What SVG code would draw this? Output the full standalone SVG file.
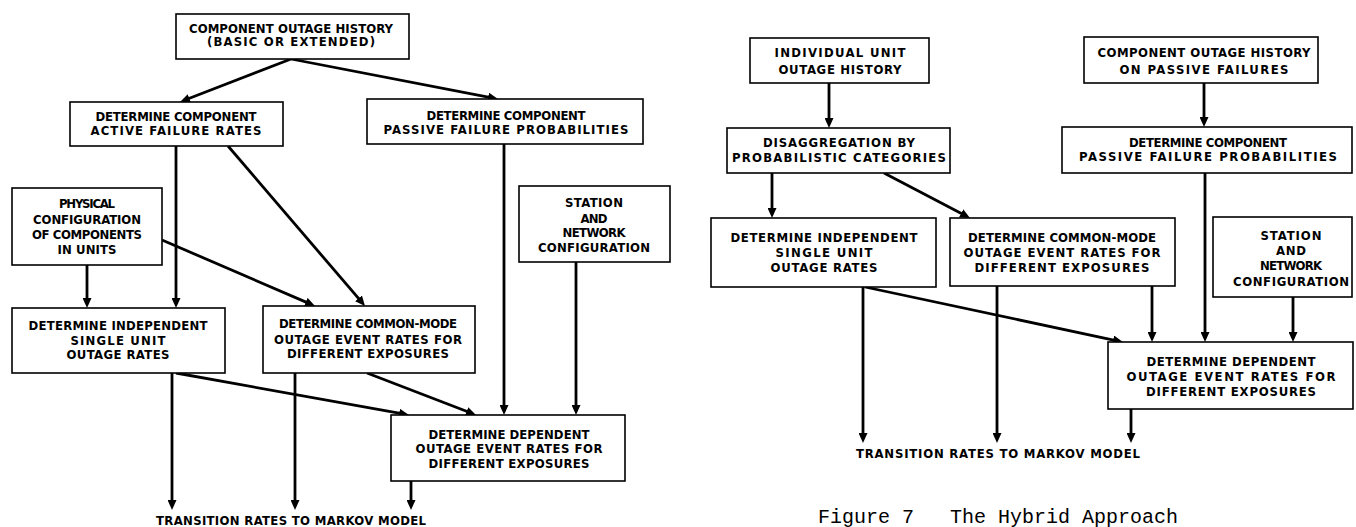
<svg xmlns="http://www.w3.org/2000/svg" width="1356" height="527" viewBox="0 0 1356 527">
<style>
.bg{fill:#fff}
.box{fill:#fff;stroke:#000;stroke-width:1.6}
.t{font-family:"DejaVu Sans Condensed","DejaVu Sans",sans-serif;font-size:13px;font-weight:bold;text-anchor:middle;fill:#000}
.c{stroke:#000;stroke-width:2.8;fill:none;marker-end:url(#ah)}
.cap{font-family:"Liberation Mono",monospace;font-size:20px;fill:#000}
</style>
<defs>
<marker id="ah" markerUnits="userSpaceOnUse" markerWidth="11" markerHeight="9" refX="4" refY="4.5" orient="auto">
<path d="M0,0 L10,4.5 L0,9 z" fill="#000"/>
</marker>
</defs>
<rect class="bg" width="1356" height="527"/>
<g id="connectors">
<line class="c" x1="291" y1="59" x2="185.6" y2="99.8"/>
<line class="c" x1="291" y1="59" x2="492.1" y2="97.9"/>
<line class="c" x1="176" y1="146" x2="176" y2="302"/>
<line class="c" x1="228" y1="146" x2="361.1" y2="301.4"/>
<line class="c" x1="504" y1="144" x2="504" y2="409"/>
<line class="c" x1="87" y1="265" x2="87" y2="302"/>
<line class="c" x1="162" y1="240" x2="309.5" y2="303.6"/>
<line class="c" x1="576" y1="262" x2="576" y2="409"/>
<line class="c" x1="176" y1="373" x2="403.1" y2="413.9"/>
<line class="c" x1="367" y1="373" x2="470.4" y2="412.8"/>
<line class="c" x1="172" y1="373" x2="172" y2="504"/>
<line class="c" x1="295" y1="373" x2="295" y2="504"/>
<line class="c" x1="411" y1="481" x2="411" y2="504"/>
<line class="c" x1="829" y1="83" x2="829" y2="122"/>
<line class="c" x1="1204" y1="83" x2="1204" y2="121"/>
<line class="c" x1="772" y1="173" x2="772" y2="212"/>
<line class="c" x1="884" y1="173" x2="964.7" y2="215.2"/>
<line class="c" x1="1205" y1="173" x2="1205" y2="336"/>
<line class="c" x1="1293" y1="297" x2="1293" y2="336"/>
<line class="c" x1="1152" y1="286" x2="1152" y2="336"/>
<line class="c" x1="865" y1="287" x2="1117.1" y2="340.8"/>
<line class="c" x1="863" y1="287" x2="863" y2="437"/>
<line class="c" x1="997" y1="286" x2="997" y2="437"/>
<line class="c" x1="1131" y1="409" x2="1131" y2="437"/>
</g>
<g id="l-history">
<rect class="box" x="176" y="14" width="233" height="45"/>
<text class="t" x="291" y="33" textLength="204" lengthAdjust="spacing">COMPONENT OUTAGE HISTORY</text>
<text class="t" x="291" y="46" textLength="168" lengthAdjust="spacing">(BASIC OR EXTENDED)</text>
</g>
<g id="l-active">
<rect class="box" x="70" y="102" width="213" height="44"/>
<text class="t" x="176" y="121" textLength="161" lengthAdjust="spacing">DETERMINE COMPONENT</text>
<text class="t" x="176" y="135" textLength="171" lengthAdjust="spacing">ACTIVE FAILURE RATES</text>
</g>
<g id="l-passive">
<rect class="box" x="367" y="99" width="276" height="45"/>
<text class="t" x="506" y="120" textLength="159" lengthAdjust="spacing">DETERMINE COMPONENT</text>
<text class="t" x="506" y="134" textLength="245" lengthAdjust="spacing">PASSIVE FAILURE PROBABILITIES</text>
</g>
<g id="l-physical">
<rect class="box" x="12" y="188" width="150" height="77"/>
<text class="t" x="87" y="208" textLength="56" lengthAdjust="spacing">PHYSICAL</text>
<text class="t" x="87" y="224" textLength="108" lengthAdjust="spacing">CONFIGURATION</text>
<text class="t" x="87" y="239" textLength="110" lengthAdjust="spacing">OF COMPONENTS</text>
<text class="t" x="87" y="254" textLength="59" lengthAdjust="spacing">IN UNITS</text>
</g>
<g id="l-station">
<rect class="box" x="519" y="186" width="151" height="76"/>
<text class="t" x="594" y="207" textLength="58" lengthAdjust="spacing">STATION</text>
<text class="t" x="594" y="223" textLength="27" lengthAdjust="spacing">AND</text>
<text class="t" x="594" y="237" textLength="63" lengthAdjust="spacing">NETWORK</text>
<text class="t" x="594" y="252" textLength="112" lengthAdjust="spacing">CONFIGURATION</text>
</g>
<g id="l-independent">
<rect class="box" x="12" y="308" width="213" height="65"/>
<text class="t" x="118" y="330" textLength="179" lengthAdjust="spacing">DETERMINE INDEPENDENT</text>
<text class="t" x="118" y="345" textLength="95" lengthAdjust="spacing">SINGLE UNIT</text>
<text class="t" x="118" y="359" textLength="103" lengthAdjust="spacing">OUTAGE RATES</text>
</g>
<g id="l-commonmode">
<rect class="box" x="263" y="306" width="212" height="67"/>
<text class="t" x="368" y="328" textLength="178" lengthAdjust="spacing">DETERMINE COMMON-MODE</text>
<text class="t" x="368" y="344" textLength="188" lengthAdjust="spacing">OUTAGE EVENT RATES FOR</text>
<text class="t" x="368" y="358" textLength="162" lengthAdjust="spacing">DIFFERENT EXPOSURES</text>
</g>
<g id="l-dependent">
<rect class="box" x="391" y="415" width="234" height="66"/>
<text class="t" x="509" y="439" textLength="161" lengthAdjust="spacing">DETERMINE DEPENDENT</text>
<text class="t" x="509" y="453" textLength="187" lengthAdjust="spacing">OUTAGE EVENT RATES FOR</text>
<text class="t" x="509" y="468" textLength="161" lengthAdjust="spacing">DIFFERENT EXPOSURES</text>
</g>
<g id="l-output">
<text class="t" x="291" y="525" textLength="270" lengthAdjust="spacing">TRANSITION RATES TO MARKOV MODEL</text>
</g>
<g id="r-unit-history">
<rect class="box" x="750" y="38" width="179" height="45"/>
<text class="t" x="840" y="57" textLength="131" lengthAdjust="spacing">INDIVIDUAL UNIT</text>
<text class="t" x="840" y="74" textLength="123" lengthAdjust="spacing">OUTAGE HISTORY</text>
</g>
<g id="r-passive-history">
<rect class="box" x="1084" y="37" width="234" height="46"/>
<text class="t" x="1204" y="57" textLength="213" lengthAdjust="spacing">COMPONENT OUTAGE HISTORY</text>
<text class="t" x="1204" y="74" textLength="169" lengthAdjust="spacing">ON PASSIVE FAILURES</text>
</g>
<g id="r-disaggregation">
<rect class="box" x="727" y="128" width="223" height="45"/>
<text class="t" x="839" y="147" textLength="152" lengthAdjust="spacing">DISAGGREGATION BY</text>
<text class="t" x="839" y="162" textLength="214" lengthAdjust="spacing">PROBABILISTIC CATEGORIES</text>
</g>
<g id="r-passive">
<rect class="box" x="1062" y="127" width="290" height="46"/>
<text class="t" x="1208" y="147" textLength="158" lengthAdjust="spacing">DETERMINE COMPONENT</text>
<text class="t" x="1208" y="161" textLength="258" lengthAdjust="spacing">PASSIVE FAILURE PROBABILITIES</text>
</g>
<g id="r-independent">
<rect class="box" x="711" y="218" width="225" height="69"/>
<text class="t" x="824" y="242" textLength="187" lengthAdjust="spacing">DETERMINE INDEPENDENT</text>
<text class="t" x="824" y="257" textLength="97" lengthAdjust="spacing">SINGLE UNIT</text>
<text class="t" x="824" y="272" textLength="107" lengthAdjust="spacing">OUTAGE RATES</text>
</g>
<g id="r-commonmode">
<rect class="box" x="950" y="218" width="225" height="68"/>
<text class="t" x="1062" y="242" textLength="188" lengthAdjust="spacing">DETERMINE COMMON-MODE</text>
<text class="t" x="1062" y="257" textLength="197" lengthAdjust="spacing">OUTAGE EVENT RATES FOR</text>
<text class="t" x="1062" y="272" textLength="175" lengthAdjust="spacing">DIFFERENT EXPOSURES</text>
</g>
<g id="r-station">
<rect class="box" x="1213" y="217" width="139" height="80"/>
<text class="t" x="1291" y="240" textLength="61" lengthAdjust="spacing">STATION</text>
<text class="t" x="1291" y="255" textLength="30" lengthAdjust="spacing">AND</text>
<text class="t" x="1291" y="270" textLength="62" lengthAdjust="spacing">NETWORK</text>
<text class="t" x="1291" y="286" textLength="116" lengthAdjust="spacing">CONFIGURATION</text>
</g>
<g id="r-dependent">
<rect class="box" x="1108" y="342" width="245" height="67"/>
<text class="t" x="1231" y="366" textLength="169" lengthAdjust="spacing">DETERMINE DEPENDENT</text>
<text class="t" x="1231" y="381" textLength="209" lengthAdjust="spacing">OUTAGE EVENT RATES FOR</text>
<text class="t" x="1231" y="396" textLength="170" lengthAdjust="spacing">DIFFERENT EXPOSURES</text>
</g>
<g id="r-output">
<text class="t" x="998" y="458" textLength="284" lengthAdjust="spacing">TRANSITION RATES TO MARKOV MODEL</text>
</g>
<g id="caption">
<text class="cap" x="818" y="523" xml:space="preserve">Figure 7   The Hybrid Approach</text>
</g>
</svg>
